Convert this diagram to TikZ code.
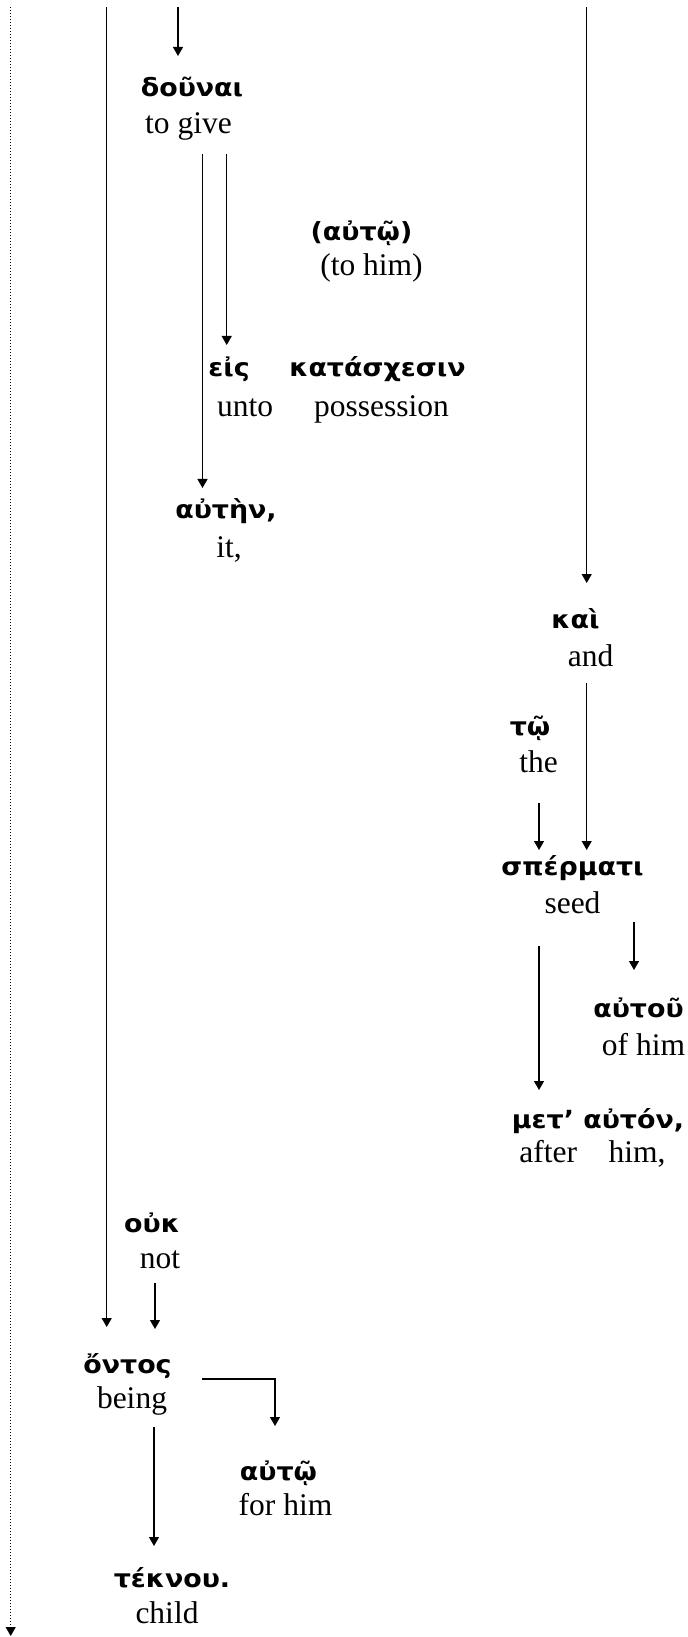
\documentclass[tikz,border=0pt]{standalone}
\usepackage{fontspec}
\setmainfont{Liberation Serif}
\newfontfamily\greekfam[FakeStretch=1.075]{DejaVu Sans}
\newcommand{\gkfont}{\greekfam\bfseries\fontsize{10pt}{12pt}\selectfont}
\newcommand{\enfont}{\fontsize{12.6pt}{15pt}\selectfont}
\usetikzlibrary{arrows.meta,calc}

\begin{document}
\begin{tikzpicture}[x=0.4pt,y=-0.4pt,>={Triangle[width=4pt,length=3.6pt]},
  gk/.style={font=\gkfont,anchor=base,inner sep=0pt},
  en/.style={font=\enfont,anchor=base,inner sep=0pt},
  link/.style={->,line width=0.5pt},
  trail/.style={->,line width=0.4pt,dash pattern=on 0.45pt off 0.75pt}]
  \useasboundingbox (0,0) rectangle (687,1637);
  \coordinate (top) at (0,7);
  \coordinate (bottom) at (0,1636);

  % words: greek line over english gloss
  \node[gk] (dounai) at (192,97) {δοῦναι};
  \node[en] (togive) at (188.5,134) {to give};
  \node[gk] (autwparen) at (361.5,241) {(αὐτῷ)};
  \node[en] (tohim) at (371.5,276) {(to him)};
  \node[gk] (eis) at (229,377) {εἰς};
  \node[en] (unto) at (245,417) {unto};
  \node[gk] (kataschesin) at (377.5,377) {κατάσχεσιν};
  \node[en] (possession) at (381.5,417) {possession};
  \node[gk] (auten) at (226,519) {αὐτὴν,};
  \node[en] (it) at (229,557) {it,};
  \node[gk] (kai) at (575.5,628) {καὶ};
  \node[en] (and) at (590.5,666) {and};
  \node[gk] (tw) at (530,735) {τῷ};
  \node[en] (the) at (538.5,772) {the};
  \node[gk] (spermati) at (572.5,875) {σπέρματι};
  \node[en] (seed) at (572.5,913) {seed};
  \node[gk] (autou) at (638.5,1017) {αὐτοῦ};
  \node[en] (ofhim) at (643.5,1055) {of him};
  \node[gk] (metauton) at (598,1128) {μετ’ αὐτόν,};
  \node[en] (afterhim) at (592.5,1162) {after\hspace{1em}him,};
  \node[gk] (ouk) at (152,1232) {οὐκ};
  \node[en] (not) at (160,1268) {not};
  \node[gk] (ontos) at (127.5,1373) {ὄντος};
  \node[en] (being) at (132,1408) {being};
  \node[gk] (autw) at (278.5,1480) {αὐτῷ};
  \node[en] (forhim) at (285.5,1515) {for him};
  \node[gk] (teknou) at (172,1587) {τέκνου.};
  \node[en] (child) at (167,1623) {child};

  % lines coming in from above
  \draw[trail] (10.7,0 |- top) -- (10.7,0 |- bottom);
  \draw[link] (106.7,0 |- top) -- ($(106.7,0 |- ontos.base)+(0,-46)$);
  \draw[link] (178,0 |- top) -- ($(178,0 |- dounai.base)+(0,-41)$);
  \draw[link] (586.7,0 |- top) -- ($(586.7,0 |- kai.base)+(0,-45)$);

  % dounai
  \draw[link] ($(202.5,0 |- togive.base)+(0,20)$) -- ($(202.5,0 |- auten.base)+(0,-31)$);
  \draw[link] ($(226.7,0 |- togive.base)+(0,20)$) -- ($(226.7,0 |- eis.base)+(0,-32)$);

  % spermati
  \draw[link] ($(586.7,0 |- and.base)+(0,17)$) -- ($(586.7,0 |- spermati.base)+(0,-25)$);
  \draw[link] ($(539,0 |- the.base)+(0,31)$) -- ($(539,0 |- spermati.base)+(0,-25)$);
  \draw[link] ($(634,0 |- seed.base)+(0,9)$) -- ($(634,0 |- autou.base)+(0,-47)$);
  \draw[link] ($(539,0 |- seed.base)+(0,33)$) -- ($(539,0 |- metauton.base)+(0,-38)$);

  % ontos
  \draw[link] ($(155,0 |- not.base)+(0,15)$) -- ($(155,0 |- ontos.base)+(0,-44)$);
  \draw[link] ($(202,0 |- ontos.base)+(0,6)$) -| ($(275,0 |- autw.base)+(0,-54)$);
  \draw[link] ($(154,0 |- being.base)+(0,19)$) -- ($(154,0 |- teknou.base)+(0,-41)$);
\end{tikzpicture}
\end{document}
